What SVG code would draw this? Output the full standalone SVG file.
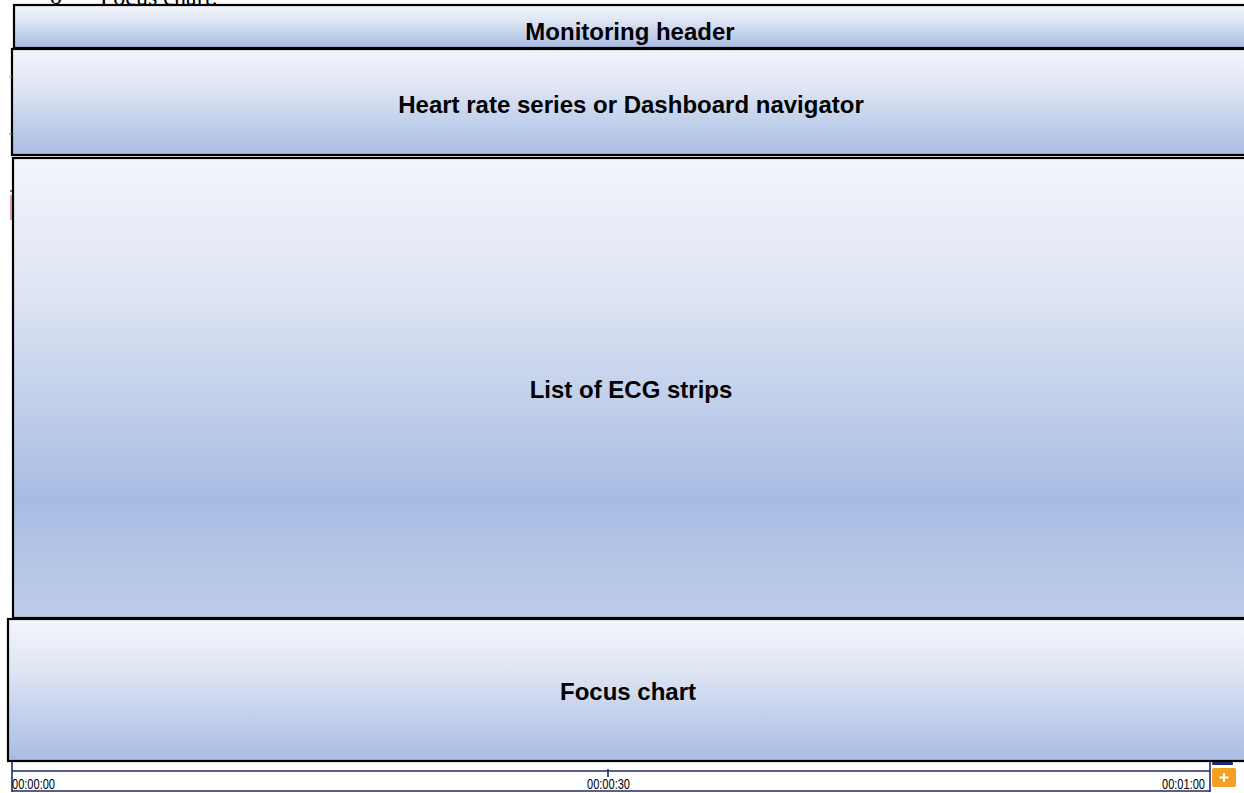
<svg xmlns="http://www.w3.org/2000/svg" width="1244" height="793" viewBox="0 0 1244 793">
  <style>
    .panel { stroke: #000; stroke-width: 2.2; }
    .title { font-family: "Liberation Sans", Arial, sans-serif; font-weight: bold; font-size: 24px; fill: #000; text-anchor: middle; }
    .axis { font-family: "Liberation Sans", Arial, sans-serif; font-size: 15px; fill: #000; }
    .axisline { stroke: #1f2a6b; stroke-width: 1.6; fill: none; }
    .caption { font-family: "Liberation Serif", "Times New Roman", serif; font-size: 24px; fill: #000; }
  </style>
  <defs>
    <linearGradient id="gBand" x1="0" y1="0" x2="0" y2="1">
      <stop offset="0" stop-color="#f3f5fb"/>
      <stop offset="0.35" stop-color="#dfe6f4"/>
      <stop offset="1" stop-color="#a8bce3"/>
    </linearGradient>
    <linearGradient id="gList" x1="0" y1="0" x2="0" y2="1">
      <stop offset="0" stop-color="#f3f5fb"/>
      <stop offset="0.3" stop-color="#dde4f3"/>
      <stop offset="0.74" stop-color="#a8bce3"/>
      <stop offset="1" stop-color="#bfcde9"/>
    </linearGradient>
  </defs>

  <rect width="1244" height="793" fill="#fff"/>

  <!-- caption line above the panels, clipped by the frame edge -->
  <text class="caption" x="50" y="4">o</text>
  <text class="caption" x="100" y="5">Focus chart:</text>

  <g id="monitoring-header">
    <rect class="panel" x="14" y="5" width="1240" height="43" fill="url(#gBand)"/>
    <text class="title" x="630" y="40">Monitoring header</text>
  </g>

  <g id="heart-rate-navigator">
    <rect class="panel" x="12" y="49" width="1242" height="106" fill="url(#gBand)"/>
    <text class="title" x="631" y="113">Heart rate series or Dashboard navigator</text>
  </g>

  <g id="ecg-strips">
    <rect class="panel" x="13" y="158" width="1241" height="460" fill="url(#gList)"/>
    <text class="title" x="631" y="398">List of ECG strips</text>
  </g>

  <g id="focus-chart">
    <rect class="panel" x="8" y="619" width="1246" height="142" fill="url(#gBand)"/>
    <text class="title" x="628" y="700">Focus chart</text>
  </g>

  <!-- small marks along the left margin -->
  <g id="margin-marks">
    <line x1="9" y1="77" x2="12" y2="77" stroke="#999" stroke-width="1"/>
    <line x1="9" y1="134" x2="12" y2="134" stroke="#777" stroke-width="1"/>
    <line x1="10" y1="191" x2="13" y2="191" stroke="#000" stroke-width="1"/>
    <line x1="11" y1="195" x2="11" y2="220" stroke="#d04040" stroke-width="1"/>
  </g>

  <g id="time-axis">
    <line class="axisline" x1="12" y1="771" x2="1210" y2="771"/>
    <line class="axisline" x1="12" y1="791" x2="1210" y2="791"/>
    <line class="axisline" x1="12" y1="762" x2="12" y2="792"/>
    <line class="axisline" x1="1210" y1="762" x2="1210" y2="792" stroke-width="1"/>
    <line class="axisline" x1="608" y1="769" x2="608" y2="777" stroke-width="2"/>
    <text class="axis" x="12" y="789" textLength="43" lengthAdjust="spacingAndGlyphs">00:00:00</text>
    <text class="axis" x="587" y="789" textLength="43" lengthAdjust="spacingAndGlyphs">00:00:30</text>
    <text class="axis" x="1162" y="789" textLength="43" lengthAdjust="spacingAndGlyphs">00:01:00</text>
  </g>

  <g id="zoom-controls">
    <rect x="1212" y="762" width="21" height="3" rx="1" fill="#1f2a6b"/>
    <rect x="1212" y="768" width="24" height="19" rx="2" fill="#f0a022"/>
    <path d="M1224 773 V782 M1219.5 777.5 H1228.5" stroke="#fff" stroke-width="2.2"/>
  </g>
</svg>
